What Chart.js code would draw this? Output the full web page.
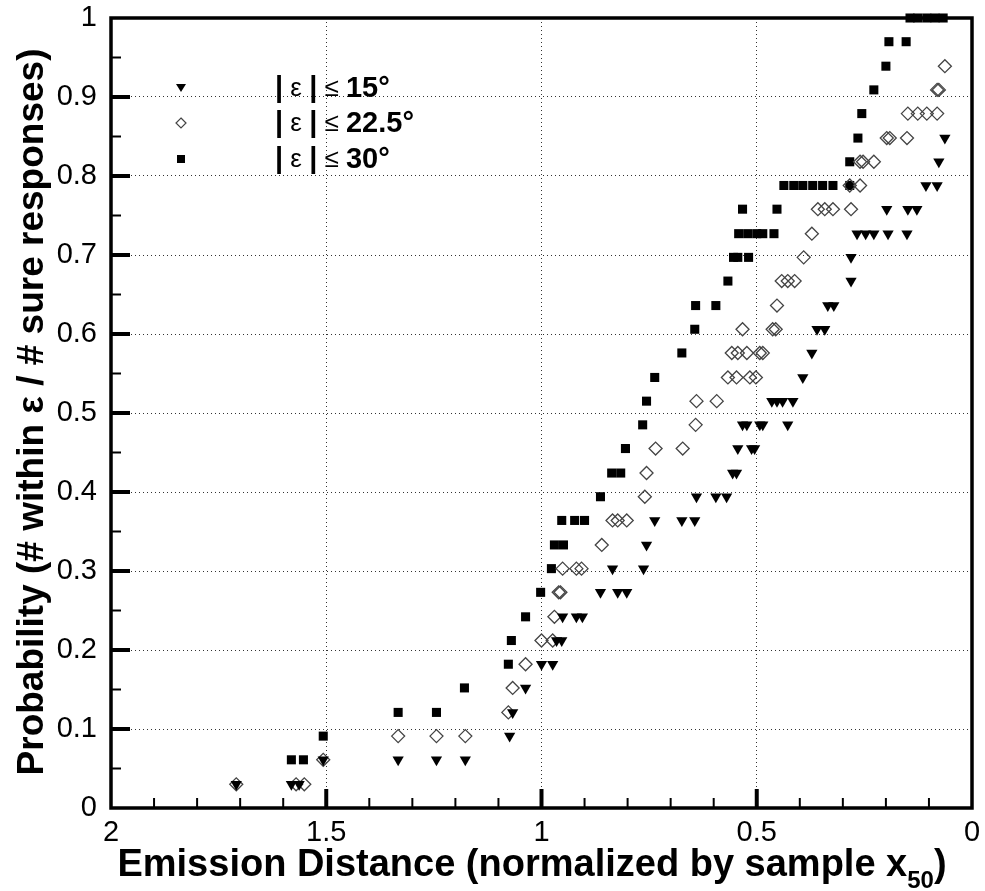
<!DOCTYPE html>
<html>
<head>
<meta charset="utf-8">
<script src="https://cdn.jsdelivr.net/npm/chart.js@4.4.0/dist/chart.umd.min.js"></script>
<style>
  html, body { margin: 0; padding: 0; background: #fff; }
  #wrap { width: 985px; height: 891px; }
</style>
</head>
<body>
<div id="wrap"><canvas id="myChart" width="985" height="891"></canvas></div>
<script>
// probability levels are k/33 (33 sure responses)
const triX = [1.709, 1.581, 1.563, 1.507, 1.333, 1.244, 1.177, 1.074, 1.067, 1.037,
  1.000, 0.974, 0.965, 0.953, 0.951, 0.919, 0.905, 0.863, 0.823, 0.802,
  0.835, 0.763, 0.756, 0.737, 0.674, 0.644, 0.640, 0.595, 0.570, 0.556, 0.547,
  0.544, 0.512, 0.505, 0.533, 0.523, 0.493, 0.486, 0.428, 0.465, 0.453, 0.440, 0.416,
  0.393, 0.372, 0.360, 0.342, 0.335, 0.321, 0.281, 0.281,
  0.267, 0.247, 0.228, 0.195, 0.151, 0.198, 0.149, 0.128, 0.107, 0.081, 0.077, 0.063];
const triY = [0.030, 0.030, 0.030, 0.061, 0.061, 0.061, 0.061, 0.091, 0.121, 0.152,
  0.182, 0.182, 0.212, 0.212, 0.242, 0.242, 0.242, 0.273, 0.273, 0.273,
  0.303, 0.303, 0.333, 0.364, 0.364, 0.364, 0.394, 0.394, 0.394, 0.424, 0.424,
  0.455, 0.455, 0.455, 0.485, 0.485, 0.485, 0.485, 0.485, 0.515, 0.515, 0.515, 0.515,
  0.545, 0.576, 0.606, 0.606, 0.636, 0.636, 0.667, 0.697,
  0.727, 0.727, 0.727, 0.727, 0.727, 0.758, 0.758, 0.758, 0.788, 0.788, 0.818, 0.848];

const diaX = [1.709, 1.570, 1.551, 1.507, 1.333, 1.244, 1.177, 1.077, 1.067, 1.037,
  1.000, 0.974, 0.970, 0.960, 0.956, 0.951, 0.919, 0.907, 0.860, 0.835, 0.823, 0.802,
  0.760, 0.756, 0.735, 0.672, 0.642, 0.640, 0.593,
  0.567, 0.547, 0.516, 0.502, 0.558, 0.544, 0.523, 0.493, 0.486,
  0.533, 0.463, 0.456, 0.453, 0.442, 0.428, 0.412, 0.391, 0.372,
  0.358, 0.342, 0.323, 0.281, 0.284, 0.260, 0.260, 0.253, 0.228,
  0.198, 0.191, 0.151, 0.149, 0.126, 0.105, 0.081, 0.081, 0.077, 0.063];
const diaY = [0.030, 0.030, 0.030, 0.061, 0.091, 0.091, 0.091, 0.121, 0.152, 0.182,
  0.212, 0.212, 0.242, 0.273, 0.273, 0.303, 0.303, 0.303, 0.333, 0.364, 0.364, 0.364,
  0.394, 0.424, 0.455, 0.455, 0.485, 0.515, 0.515,
  0.545, 0.545, 0.545, 0.545, 0.576, 0.576, 0.576, 0.576, 0.576,
  0.606, 0.606, 0.606, 0.636, 0.667, 0.667, 0.667, 0.697, 0.727,
  0.758, 0.758, 0.758, 0.758, 0.788, 0.788, 0.818, 0.818, 0.818,
  0.848, 0.848, 0.848, 0.879, 0.879, 0.879, 0.879, 0.909, 0.909, 0.939];

const sqX = [1.581, 1.553, 1.507, 1.333, 1.244, 1.179, 1.077, 1.070, 1.037, 1.002,
  0.977, 0.970, 0.949, 0.953, 0.923, 0.900, 0.863, 0.837, 0.816, 0.805,
  0.765, 0.756, 0.737, 0.674, 0.644, 0.642, 0.595, 0.567,
  0.554, 0.544, 0.519, 0.542, 0.521, 0.500, 0.486, 0.460, 0.533, 0.453,
  0.437, 0.414, 0.393, 0.370, 0.347, 0.323, 0.284, 0.284, 0.265, 0.256,
  0.228, 0.200, 0.193, 0.153, 0.144, 0.126, 0.105, 0.086, 0.067];
const sqY = [0.061, 0.061, 0.091, 0.121, 0.121, 0.152, 0.182, 0.212, 0.242, 0.273,
  0.303, 0.333, 0.333, 0.364, 0.364, 0.364, 0.394, 0.424, 0.424, 0.455,
  0.485, 0.515, 0.545, 0.576, 0.606, 0.636, 0.636, 0.667,
  0.697, 0.697, 0.697, 0.727, 0.727, 0.727, 0.727, 0.727, 0.758, 0.758,
  0.788, 0.788, 0.788, 0.788, 0.788, 0.788, 0.788, 0.818, 0.848, 0.879,
  0.909, 0.939, 0.970, 0.970, 1.000, 1.000, 1.000, 1.000, 1.000];

const legendLabels = ['15°', '22.5°', '30°'];
const yMajor = [0.1, 0.2, 0.3, 0.4, 0.5, 0.6, 0.7, 0.8, 0.9];
const yMinor = [0.05, 0.15, 0.25, 0.35, 0.45, 0.55, 0.65, 0.75, 0.85, 0.95];
const xMajor = [0.5, 1, 1.5];
const xMinor = [0.1, 0.2, 0.3, 0.4, 0.6, 0.7, 0.8, 0.9, 1.1, 1.2, 1.3, 1.4, 1.6, 1.7, 1.8, 1.9];

const FONT = '"Liberation Sans", Arial, sans-serif';

function pts(xs, ys) {
  return xs.map((v, i) => ({x: v, y: ys[i]}));
}

function line(ctx, x1, y1, x2, y2) {
  ctx.beginPath();
  ctx.moveTo(x1, y1);
  ctx.lineTo(x2, y2);
  ctx.stroke();
}

function tickText(v) {
  return String(Number(v.toFixed(2)));
}

// axis frame + inward ticks, titles, legend
const frame = {
  id: 'frame',
  beforeDatasetsDraw(chart) {
    const {ctx, chartArea: a, scales: {x, y}} = chart;
    ctx.save();
    ctx.strokeStyle = '#000';
    ctx.lineCap = 'butt';
    ctx.lineWidth = 2;
    yMinor.forEach(v => { const p = y.getPixelForValue(v); line(ctx, a.left, p, a.left + 10, p); });
    xMinor.forEach(v => { const p = x.getPixelForValue(v); line(ctx, p, a.bottom, p, a.bottom - 10); });
    ctx.lineWidth = 4;
    yMajor.forEach(v => { const p = y.getPixelForValue(v); line(ctx, a.left, p, a.left + 19, p); });
    xMajor.forEach(v => { const p = x.getPixelForValue(v); line(ctx, p, a.bottom, p, a.bottom - 19); });
    ctx.lineWidth = 3.5;
    ctx.strokeRect(a.left, a.top, a.right - a.left, a.bottom - a.top);
    ctx.restore();
  },
  afterDraw(chart) {
    const {ctx} = chart;
    ctx.save();
    ctx.fillStyle = '#000';
    // y title
    ctx.translate(33, 412);
    ctx.rotate(-Math.PI / 2);
    ctx.textAlign = 'center';
    ctx.textBaseline = 'middle';
    ctx.font = 'bold 37px ' + FONT;
    ctx.fillText('Probability (# within ε / # sure responses)', 0, 0);
    ctx.restore();

    // x title with subscript
    ctx.save();
    ctx.fillStyle = '#000';
    const main = 'Emission Distance (normalized by sample x';
    ctx.font = 'bold 38px ' + FONT;
    const w1 = ctx.measureText(main).width;
    ctx.font = 'bold 24px ' + FONT;
    const w2 = ctx.measureText('50').width;
    ctx.font = 'bold 38px ' + FONT;
    const w3 = ctx.measureText(')').width;
    const sx = 532 - (w1 + w2 + w3) / 2;
    ctx.textBaseline = 'alphabetic';
    ctx.textAlign = 'left';
    ctx.fillText(main, sx, 876);
    ctx.font = 'bold 24px ' + FONT;
    ctx.fillText('50', sx + w1, 888);
    ctx.font = 'bold 38px ' + FONT;
    ctx.fillText(')', sx + w1 + w2, 876);
    ctx.restore();

    // legend
    ctx.save();
    const rows = [88, 123, 159];
    const mx = 181;
    ctx.fillStyle = '#000';
    ctx.beginPath();
    ctx.moveTo(mx - 5, rows[0] - 4); ctx.lineTo(mx + 5, rows[0] - 4); ctx.lineTo(mx, rows[0] + 4);
    ctx.closePath(); ctx.fill();
    ctx.lineWidth = 1.2;
    ctx.strokeStyle = '#444';
    ctx.beginPath();
    ctx.moveTo(mx, rows[1] - 5); ctx.lineTo(mx + 5, rows[1]); ctx.lineTo(mx, rows[1] + 5); ctx.lineTo(mx - 5, rows[1]);
    ctx.closePath(); ctx.stroke();
    ctx.fillRect(mx - 4, rows[2] - 4, 8, 8);

    ctx.textBaseline = 'middle';
    ctx.textAlign = 'left';
    legendLabels.forEach((lab, i) => {
      const segs = [['|', 'bold 29px '], [' ε ', '26px '], ['|', 'bold 29px '], [' ≤ ', '26px '], [lab, 'bold 29px ']];
      let tx = 275;
      segs.forEach(([s, f]) => {
        ctx.font = f + FONT;
        ctx.fillText(s, tx, rows[i] + 1);
        tx += ctx.measureText(s).width;
      });
    });
    ctx.restore();
  }
};

const data = {
  datasets: [
    {
      label: '|ε| ≤ 15°',
      data: pts(triX, triY),
      pointStyle: 'triangle',
      rotation: 180,
      radius: 6.5,
      backgroundColor: '#000',
      borderColor: '#000',
      borderWidth: 0
    },
    {
      label: '|ε| ≤ 22.5°',
      data: pts(diaX, diaY),
      pointStyle: 'rectRot',
      radius: 6.5,
      backgroundColor: 'rgba(0,0,0,0)',
      borderColor: '#444',
      borderWidth: 1.3
    },
    {
      label: '|ε| ≤ 30°',
      data: pts(sqX, sqY),
      pointStyle: 'rect',
      radius: 6.4,
      backgroundColor: '#000',
      borderColor: '#000',
      borderWidth: 0
    }
  ]
};

const config = {
  type: 'scatter',
  data: data,
  options: {
    responsive: false,
    animation: false,
    devicePixelRatio: 1,
    layout: { padding: { top: 18, right: 13, left: 0, bottom: 0 } },
    elements: { point: { hoverRadius: 6.5 } },
    datasets: { scatter: { clip: false } },
    plugins: {
      legend: { display: false },
      tooltip: { enabled: false },
      title: { display: false }
    },
    scales: {
      x: {
        type: 'linear',
        reverse: true,
        min: 0,
        max: 2,
        afterFit: s => { s.height = 83; s.paddingLeft = 0; s.paddingRight = 0; },
        ticks: {
          stepSize: 0.5,
          autoSkip: false,
          maxRotation: 0,
          padding: 8,
          color: '#000',
          font: { family: FONT, size: 29 },
          callback: v => tickText(v)
        },
        grid: {
          drawTicks: false,
          color: c => (c.tick.value === 0 || c.tick.value === 2) ? 'rgba(0,0,0,0)' : '#333',
          lineWidth: 1
        },
        border: { display: false, dash: [1, 3] }
      },
      y: {
        type: 'linear',
        min: 0,
        max: 1,
        afterFit: s => { s.width = 111; s.paddingTop = 0; s.paddingBottom = 0; },
        ticks: {
          stepSize: 0.1,
          padding: 14,
          color: '#000',
          font: { family: FONT, size: 29 },
          callback: v => tickText(v)
        },
        grid: {
          drawTicks: false,
          color: c => (c.tick.value === 0 || c.tick.value === 1) ? 'rgba(0,0,0,0)' : '#333',
          lineWidth: 1
        },
        border: { display: false, dash: [1, 3] }
      }
    }
  },
  plugins: [frame]
};

const myChart = new Chart(document.getElementById('myChart'), config);
</script>
</body>
</html>
